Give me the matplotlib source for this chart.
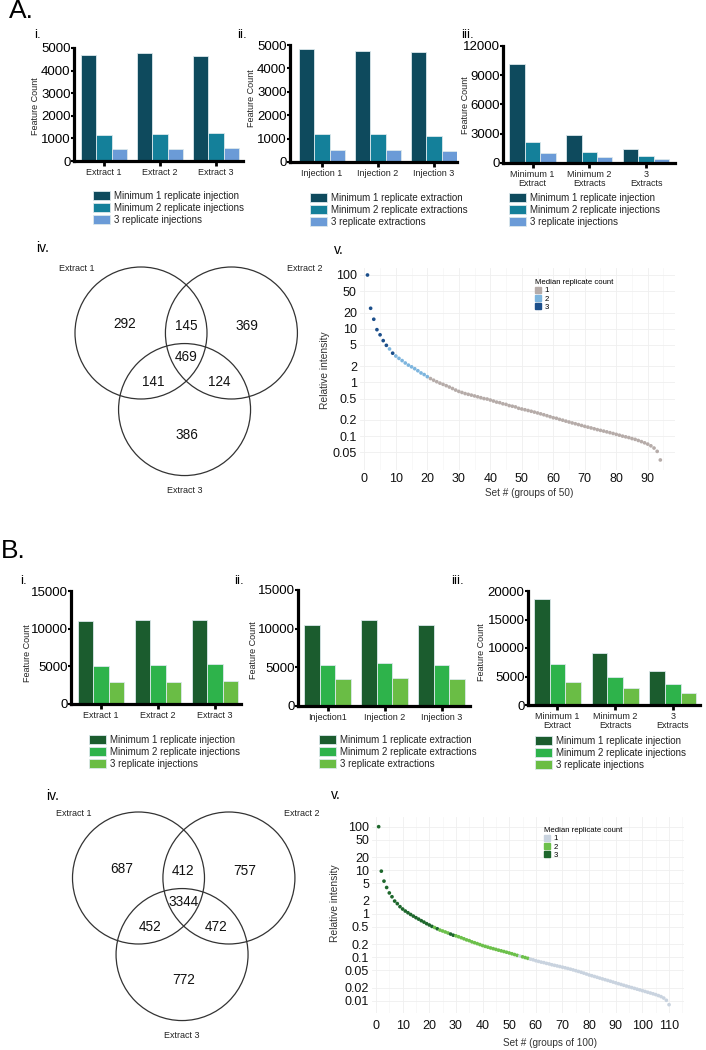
import numpy as np
import matplotlib
matplotlib.use("Agg")
import matplotlib.pyplot as plt
from matplotlib.patches import Circle
from matplotlib.lines import Line2D
from matplotlib.ticker import NullLocator

plt.rcParams['font.family'] = ['Liberation Sans', 'DejaVu Sans']

W, H = 706, 1050

# ---------------- DATA: panel A (blue) ----------------
a_i_groups = ["Extract 1", "Extract 2", "Extract 3"]
a_i_min1 = [4700, 4780, 4650]
a_i_min2 = [1150, 1200, 1225]
a_i_all3 = [520, 545, 575]
a_i_legend = ["Minimum 1 replicate injection", "Minimum 2 replicate injections", "3 replicate injections"]

a_ii_groups = ["Injection 1", "Injection 2", "Injection 3"]
a_ii_min1 = [4830, 4760, 4700]
a_ii_min2 = [1200, 1180, 1130]
a_ii_all3 = [520, 510, 480]
a_ii_legend = ["Minimum 1 replicate extraction", "Minimum 2 replicate extractions", "3 replicate extractions"]

a_iii_groups = ["Minimum 1\nExtract", "Minimum 2\nExtracts", "3\nExtracts"]
a_iii_min1 = [10200, 2900, 1450]
a_iii_min2 = [2150, 1100, 700]
a_iii_all3 = [1000, 600, 450]
a_iii_legend = a_i_legend

# venn counts: only1, only2, 1&2, only3, 1&3, 2&3, all
venn_a = [292, 369, 145, 386, 141, 124, 469]

# relative intensity per set (groups of 50), median replicate count
a_v_int = [100, 24, 15, 9.6, 7.7, 6.0, 4.9, 4.2, 3.5, 3.1,
           2.8, 2.55, 2.3, 2.1, 1.95, 1.8, 1.65, 1.5, 1.4, 1.28,
           1.18, 1.1, 1.03, 0.97, 0.92, 0.87, 0.82, 0.77, 0.72, 0.68,
           0.65, 0.62, 0.6, 0.58, 0.56, 0.54, 0.52, 0.5, 0.49, 0.47,
           0.45, 0.43, 0.42, 0.40, 0.39, 0.37, 0.36, 0.35, 0.33, 0.32,
           0.31, 0.30, 0.29, 0.28, 0.27, 0.26, 0.25, 0.24, 0.23, 0.22,
           0.215, 0.205, 0.198, 0.19, 0.183, 0.176, 0.17, 0.164, 0.158, 0.152,
           0.147, 0.142, 0.137, 0.132, 0.128, 0.124, 0.12, 0.116, 0.112, 0.108,
           0.104, 0.1, 0.097, 0.094, 0.09, 0.087, 0.083, 0.079, 0.075, 0.071,
           0.066, 0.06, 0.052, 0.036]
a_v_med = [int(c) for c in
           "3333333232" "2222222222"
           "1111111111" "1111111111" "1111111111" "1111111111"
           "1111111111" "1111111111" "1111111111" "1111"]

# ---------------- DATA: panel B (green) ----------------
b_i_groups = ["Extract 1", "Extract 2", "Extract 3"]
b_i_min1 = [11050, 11150, 11150]
b_i_min2 = [5100, 5200, 5300]
b_i_all3 = [2900, 2900, 3100]
b_i_legend = a_i_legend

b_ii_groups = ["Injection1", "Injection 2", "Injection 3"]
b_ii_min1 = [10500, 11100, 10500]
b_ii_min2 = [5350, 5600, 5350]
b_ii_all3 = [3500, 3650, 3450]
b_ii_legend = a_ii_legend

b_iii_groups = a_iii_groups
b_iii_min1 = [18650, 9050, 6050]
b_iii_min2 = [7150, 4950, 3600]
b_iii_all3 = [4100, 2900, 2050]
b_iii_legend = a_i_legend

venn_b = [687, 757, 412, 772, 452, 472, 3344]

# relative intensity per set (groups of 100)
b_v_int = [100, 9.5, 5.6, 4.0, 3.0, 2.45, 1.95, 1.7, 1.45, 1.28,
           1.15, 1.05, 0.96, 0.88, 0.81, 0.75, 0.69, 0.64, 0.59, 0.55,
           0.51, 0.48, 0.45, 0.42, 0.4, 0.38, 0.36, 0.34, 0.32, 0.31,
           0.295, 0.28, 0.265, 0.25, 0.24, 0.225, 0.215, 0.205, 0.195, 0.185,
           0.177, 0.17, 0.163, 0.157, 0.151, 0.145, 0.14, 0.135, 0.13, 0.125,
           0.12, 0.115, 0.11, 0.106, 0.102, 0.098, 0.094, 0.09, 0.087, 0.083,
           0.08, 0.077, 0.075, 0.072, 0.07, 0.067, 0.065, 0.063, 0.061, 0.059,
           0.057, 0.055, 0.053, 0.051, 0.049, 0.047, 0.045, 0.043, 0.041, 0.039,
           0.0375, 0.036, 0.0345, 0.033, 0.0317, 0.0304, 0.0292, 0.028, 0.0268, 0.0257,
           0.0246, 0.0236, 0.0226, 0.0217, 0.0208, 0.02, 0.0192, 0.0184, 0.0177, 0.017,
           0.0163, 0.0156, 0.015, 0.0144, 0.0138, 0.0131, 0.0124, 0.0115, 0.0102, 0.0081]
b_v_med = [int(c) for c in
           "3333333333" "3333333333" "3232222332"
           "2222222222" "2222222222" "2221222111"
           "1111111111" "1111111111" "1111111111" "1111111111"
           "1111111111"]

blues = ['#0e4a5d', '#14809a', '#6b9bd7']
greens = ['#1b5c2e', '#2eb34b', '#6abd45']
a_scatter_cols = {1: '#b6aca9', 2: '#7db5de', 3: '#1c4f8b'}
b_scatter_cols = {1: '#c9d3df', 2: '#6cc04b', 3: '#1d672c'}
log_ticks_a = [100, 50, 20, 10, 5, 2, 1, 0.5, 0.2, 0.1, 0.05]
log_ticks_b = log_ticks_a + [0.02, 0.01]

fig = plt.figure(figsize=(W / 100, H / 100), dpi=100)


def px_axes(l, t, r, b):
    return fig.add_axes([l / W, 1 - b / H, (r - l) / W, (b - t) / H])


def ftext(x, y, s, **kw):
    fig.text(x / W, 1 - y / H, s, **kw)


def bar_panel(box, xlim, ymax, yticks, groups, series, colors, ylab_xy, legend_xy, labels):
    ax = px_axes(*box)
    x = np.arange(len(groups))
    w = 0.272
    handles = []
    for k, (vals, c) in enumerate(zip(series, colors)):
        handles.append(ax.bar(x + (k - 1) * w, vals, w, color=c,
                              edgecolor='#dce8ec', linewidth=0.6))
    ax.set_xlim(*xlim)
    ax.set_ylim(0, ymax)
    ax.set_yticks(yticks)
    ax.set_yticklabels([str(t) for t in yticks])
    ax.get_yticklabels()[0].set_fontsize(4)
    ax.set_xticks(x)
    ax.set_xticklabels(groups, fontsize=6.5, linespacing=1.05, color='#222222')
    for s in ['top', 'right']:
        ax.spines[s].set_visible(False)
    for s in ['left', 'bottom']:
        ax.spines[s].set_linewidth(2.3)
    ax.tick_params(axis='y', length=2, width=1.5, pad=0.5, labelsize=9.5)
    ax.tick_params(axis='x', length=3.5, width=2, pad=1.5)
    ftext(ylab_xy[0], ylab_xy[1], "Feature Count", rotation=90, fontsize=6.5,
          ha='center', va='center', color='#222222')
    fig.legend(handles, labels, loc='upper left',
               bbox_to_anchor=(legend_xy[0] / W, 1 - legend_xy[1] / H),
               frameon=False, fontsize=7, handlelength=1.75, handleheight=1.1,
               handletextpad=0.45, labelspacing=0.2, borderpad=0, borderaxespad=0,
               labelcolor='#222222')
    return ax


def venn_panel(cx, cy, counts):
    r = 66.0
    ax = px_axes(cx - 1.6 * r, cy - 1.5 * r, cx + 3.0 * r, cy + 2.7 * r)
    ax.set_xlim(-1.6, 3.0)
    ax.set_ylim(-2.7, 1.5)
    ax.axis('off')
    for c in [(0, 0), (1.37, 0), (0.66, -1.16)]:
        ax.add_patch(Circle(c, 1.0, fill=False, edgecolor='#333333', lw=0.9))
    spots = [(-0.25, 0.13), (1.61, 0.11), (0.68, 0.11), (0.69, -1.54),
             (0.18, -0.74), (1.18, -0.74), (0.68, -0.36)]
    for (sx, sy), n in zip(spots, counts):
        ax.text(sx, sy, str(n), fontsize=9.8, ha='center', va='center', color='#111111')
    for (sx, sy), s in zip([(-0.98, 0.97), (2.48, 0.97), (0.66, -2.38)],
                           ["Extract 1", "Extract 2", "Extract 3"]):
        ax.text(sx, sy, s, fontsize=6.5, ha='center', va='center', color='#222222')


def scatter_panel(box, xlim, ylim, ys, med, cols, yticks, xticks, xpad,
                  ylab_xy, xlab_xy, xlab, legend_xy):
    ax = px_axes(*box)
    xs = np.arange(1, len(ys) + 1)
    ax.set_yscale('log')
    ax.scatter(xs, ys, s=7, c=[cols[m] for m in med], linewidths=0, zorder=3)
    ax.set_xlim(*xlim)
    ax.set_ylim(*ylim)
    ax.set_yticks(yticks)
    ax.set_yticklabels([('%g' % t) for t in yticks])
    ax.yaxis.set_minor_locator(NullLocator())
    ax.set_xticks(xticks)
    ax.set_xticks([t + 5 for t in xticks], minor=True)
    ax.grid(True, which='major', color='#efefef', lw=0.6)
    ax.grid(True, which='minor', axis='x', color='#f5f5f5', lw=0.5)
    ax.set_axisbelow(True)
    for s in ax.spines.values():
        s.set_visible(False)
    ax.tick_params(axis='both', which='both', length=0, labelsize=9, colors='#111111')
    ax.tick_params(axis='y', pad=2)
    ax.tick_params(axis='x', pad=xpad)
    ftext(ylab_xy[0], ylab_xy[1], "Relative intensity", rotation=90, fontsize=7.4,
          ha='center', va='center', color='#333333')
    ftext(xlab_xy[0], xlab_xy[1], xlab, fontsize=7.2, ha='center', va='center',
          color='#333333')
    handles = [Line2D([], [], marker='s', ls='', color=cols[k], markersize=4.3)
               for k in (1, 2, 3)]
    fig.legend(handles, ['1', '2', '3'], title='Median replicate count',
               title_fontsize=5.6, fontsize=5.6, loc='upper left', alignment='left',
               bbox_to_anchor=(legend_xy[0] / W, 1 - legend_xy[1] / H),
               frameon=False, handlelength=0.8, handletextpad=0.4,
               labelspacing=0.12, borderpad=0, borderaxespad=0)
    return ax


# ---------------- A ----------------
ftext(9, -1, "A.", fontsize=19, va='top')
ftext(34, 29, "i.", fontsize=9.5, va='top')
ftext(237, 29, "ii.", fontsize=9.5, va='top')
ftext(461, 29, "iii.", fontsize=9.5, va='top')
ftext(36, 241, "iv.", fontsize=10, va='top')
ftext(334, 243, "v.", fontsize=10, va='top')

bar_panel((74, 48, 243, 161), (-0.536, 2.48), 5000, [0, 1000, 2000, 3000, 4000, 5000],
          a_i_groups, [a_i_min1, a_i_min2, a_i_all3], blues, (35.5, 106), (93, 191), a_i_legend)
bar_panel((290, 45, 457, 162), (-0.571, 2.41), 5000, [0, 1000, 2000, 3000, 4000, 5000],
          a_ii_groups, [a_ii_min1, a_ii_min2, a_ii_all3], blues, (252, 98), (310, 193), a_ii_legend)
bar_panel((503, 46, 675, 163), (-0.52, 2.51), 12000, [0, 3000, 6000, 9000, 12000],
          a_iii_groups, [a_iii_min1, a_iii_min2, a_iii_all3], blues, (466, 105), (509, 193), a_iii_legend)

venn_panel(141, 333, venn_a)

scatter_panel((359.6, 268, 674.5, 470), (-1.5, 98.5), (0.0234, 135), a_v_int, a_v_med,
              a_scatter_cols, log_ticks_a, list(range(0, 100, 10)), 2,
              (325, 370), (529, 493), "Set # (groups of 50)", (535, 279))

# ---------------- B ----------------
ftext(1, 539, "B.", fontsize=19, va='top')
ftext(20, 575, "i.", fontsize=9.5, va='top')
ftext(234, 575, "ii.", fontsize=9.5, va='top')
ftext(451, 575, "iii.", fontsize=9.5, va='top')
ftext(46, 789, "iv.", fontsize=10, va='top')
ftext(331, 788, "v.", fontsize=10, va='top')

bar_panel((71, 591, 241, 704), (-0.53, 2.46), 15000, [0, 5000, 10000, 15000],
          b_i_groups, [b_i_min1, b_i_min2, b_i_all3], greens, (28, 653), (89, 735), b_i_legend)
bar_panel((298, 590, 470, 706), (-0.52, 2.5), 15000, [0, 5000, 10000, 15000],
          b_ii_groups, [b_ii_min1, b_ii_min2, b_ii_all3], greens, (253, 650), (319, 735), b_ii_legend)
bar_panel((528, 591, 700, 705), (-0.51, 2.47), 20000, [0, 5000, 10000, 15000, 20000],
          b_iii_groups, [b_iii_min1, b_iii_min2, b_iii_all3], greens, (481, 652), (535, 736), b_iii_legend)

venn_panel(138.5, 878, venn_b)

scatter_panel((372, 817, 683.7, 1013), (-1.5, 115.5), (0.00521, 167), b_v_int, b_v_med,
              b_scatter_cols, log_ticks_b, list(range(0, 120, 10)), 5,
              (335, 903), (550, 1043), "Set # (groups of 100)", (544, 827))

fig.savefig("out.png", dpi=100, facecolor='white')
